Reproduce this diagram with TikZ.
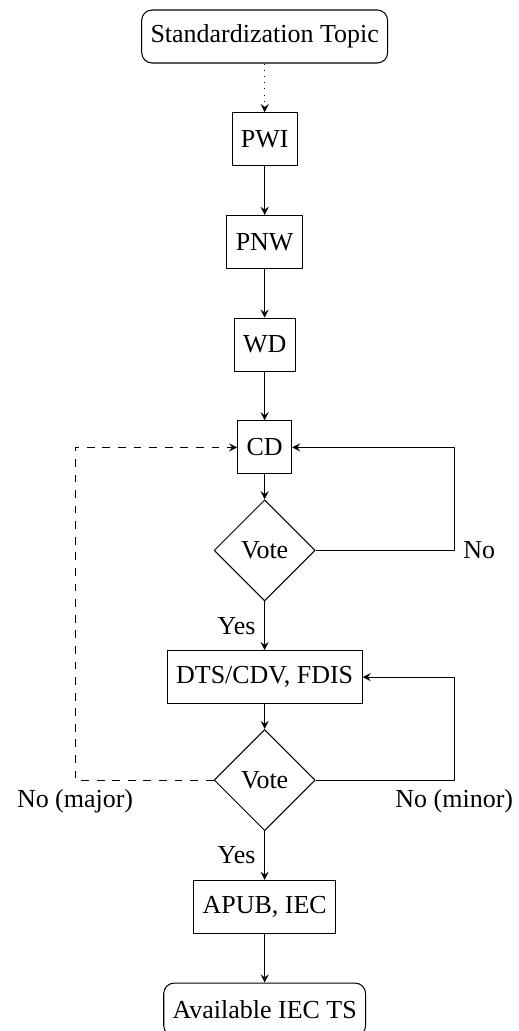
\documentclass[tikz,border=0pt]{standalone}
\usepackage{fontspec}
\setmainfont{Liberation Serif}
\usetikzlibrary{positioning,shapes.geometric}
\begin{document}
\begin{tikzpicture}[>=stealth,line join=round,node distance=18.75pt,
		stage/.style={draw,rectangle,minimum height=20.4pt,inner sep=3.4pt},
		term/.style={stage,rounded corners=4pt},
		vote/.style={draw,diamond,aspect=1,minimum size=38.9pt,inner sep=0pt}]
			\useasboundingbox (-101.9pt,14.05pt) rectangle (97.9pt,-382.9pt);
			\node[term] (topic) at (0,0) {Standardization Topic};
			\node[stage,below=of topic] (pwi) {PWI};
			\node[stage,below=of pwi] (pnw) {PNW};
			\node[stage,below=of pnw] (wd) {WD};
			\node[stage,below=of wd] (cd) {CD};
			\node[vote,below=9.6pt of cd] (vote1) {Vote};
			\node[stage,below=of vote1] (dts) {DTS/CDV, FDIS};
			\node[vote,below=9.6pt of dts] (vote2) {Vote};
			\node[stage,below=of vote2] (apub) {APUB, IEC};
			\node[term,below=of apub] (avail) {Available IEC TS};
			\coordinate (no1) at ([xshift=73pt]vote1.center);
			\coordinate (minor) at ([xshift=73pt]vote2.center);
			\coordinate (major) at ([xshift=-73pt]vote2.center);
			\draw[->,dotted] (topic)--(pwi);
			\draw[->] (pwi)--(pnw);
			\draw[->] (pnw)--(wd);
			\draw[->] (wd)--(cd);
			\draw[->] (cd)--(vote1);
			\draw[->] (vote1)-- node[left]{Yes} (dts);
			\draw[->] (dts)--(vote2);
			\draw[->] (vote2)-- node[left]{Yes} (apub);
			\draw[->] (apub)--(avail);
			\draw[->] (vote1.east)--(no1) node[right]{No} |-(cd.east);
			\draw[->] (vote2.east)--(minor) node[below]{No (minor)} |-(dts.east);
			\draw[->,dashed] (vote2.west)--(major) node[below]{No (major)} |-(cd.west);
	\end{tikzpicture}
\end{document}
